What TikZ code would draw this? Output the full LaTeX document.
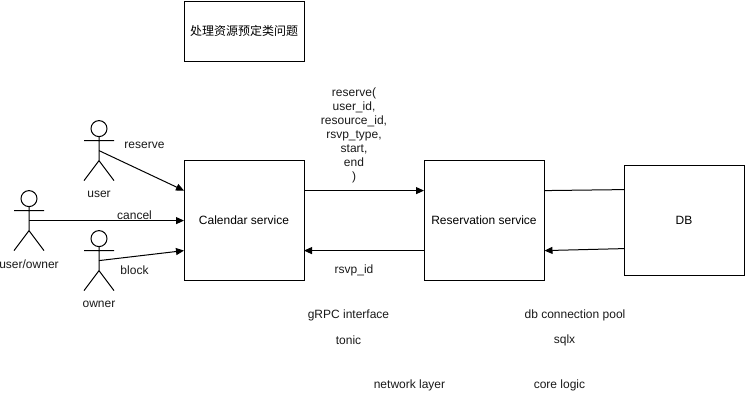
\documentclass[tikz,border=0pt]{standalone}
\usepackage{fontspec}
\setmainfont{Liberation Sans}
\newfontfamily\cjk{Noto Sans CJK SC}
\usetikzlibrary{arrows.meta}
\tikzset{
  x=1pt,y=-1pt,
  every picture/.style={line width=1pt},
  box/.style={draw=black,line width=1pt,minimum width=120pt,inner sep=0pt,font=\fontsize{12}{14}\selectfont},
  lbl/.style={inner sep=0pt,align=center,font=\fontsize{12}{14}\selectfont,text=black!90},
  conn/.style={draw=black,line width=1pt,-{Triangle[length=8pt,width=7pt]}},
  plainconn/.style={draw=black,line width=1pt},
  actor/.pic={
    \draw[line width=1pt] (0,-22) circle[radius=8];
    \draw[line width=1pt] (0,-14) -- (0,10) (-15,-10) -- (15,-10) (-15,30) -- (0,10) -- (15,30);
    \coordinate (-hip) at (0,0);
  }
}
\begin{document}
\begin{tikzpicture}
\useasboundingbox (0,-0.6) rectangle (745,400.4);
\node[box,minimum height=60pt,font=\cjk\fontsize{12}{14}\selectfont] (title) at (244,30.5) {处理资源预定类问题};
\node[box,minimum height=120pt] (cal) at (244,220) {Calendar service};
\node[box,minimum height=120pt] (res) at (484,220) {Reservation service};
\node[box,minimum height=110pt] (db) at (684,220) {DB};

\pic (user) at (99,150) {actor};
\pic (uo) at (29,220) {actor};
\pic (owner) at (99,260) {actor};

\node[lbl] (luser) at (99,194) {user};
\node[lbl] (luo) at (29,264) {user/owner};
\node[lbl] (lowner) at (99,304) {owner};

\coordinate (calA) at (184,190);
\coordinate (calB) at (184,220);
\coordinate (calC) at (184,250);
\coordinate (calR1) at (304,190);
\coordinate (calR2) at (304,250);
\coordinate (resL1) at (424,190);
\coordinate (resL2) at (424,250);
\coordinate (resR1) at (544,190);
\coordinate (resR2) at (544.5,250);
\coordinate (dbL1) at (624,189);
\coordinate (dbL2) at (624,248);

\draw[conn] (user-hip) -- (calA);
\draw[conn] (uo-hip) -- (calB);
\draw[conn] (owner-hip) -- (calC);
\draw[conn] (calR1) -- (resL1);
\draw[conn] (resL2) -- (calR2);
\draw[plainconn] (resR1) -- (dbL1);
\draw[conn] (dbL2) -- (resR2);

\node[lbl] (t1) at (144.5,145) {reserve};
\node[lbl] (t2) at (134.5,215) {cancel};
\node[lbl] (t3) at (134.5,270) {block};
\node[lbl] (t4) at (354,135) {reserve(\\user\_id,\\resource\_id,\\rsvp\_type,\\start,\\end\\)};
\node[lbl] (t5) at (354,270) {rsvp\_id};
\node[lbl] (t6) at (348.5,315) {gRPC interface};
\node[lbl] (t7) at (348.5,340) {tonic};
\node[lbl] (t8) at (575,315) {db connection pool};
\node[lbl] (t9) at (564.5,340) {sqlx};
\node[lbl] (t10) at (409.5,385) {network layer};
\node[lbl] (t11) at (559.5,385) {core logic};
\end{tikzpicture}
\end{document}
